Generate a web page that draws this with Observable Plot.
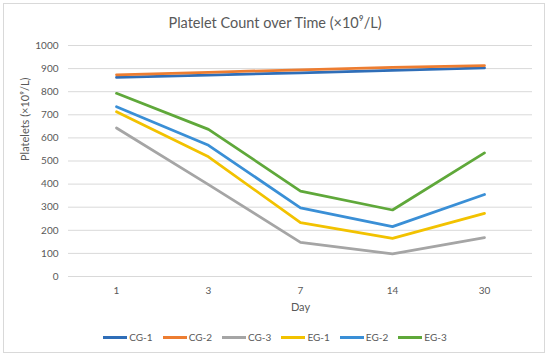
<!DOCTYPE html>
<html>
<head>
<meta charset="utf-8">
<script src="https://cdn.jsdelivr.net/npm/d3@7"></script>
<script src="https://cdn.jsdelivr.net/npm/@observablehq/plot@0.6"></script>
<style>
  html, body { margin: 0; padding: 0; background: #fff; }
  #wrap { position: relative; width: 550px; height: 360px; font-family: Lato, "Open Sans", sans-serif; color: #595959; }
  #border { position: absolute; left: 3px; top: 3px; width: 542px; height: 350px; box-sizing: border-box; border: 1px solid #d9d9d9; }
  #title { position: absolute; top: 13px; left: 0; width: 550px; text-align: center; font-size: 14.5px; line-height: 20px; }
  #chart { position: absolute; top: 36px; left: 0; }
  #legend { position: absolute; top: 330px; left: 0; width: 550px; height: 14px; display: flex; justify-content: center; align-items: center; font-size: 10px; }
  .item { display: flex; align-items: center; margin: 0 5px; }
  .sw { width: 24px; height: 3px; margin-right: 2px; }
</style>
</head>
<body>
<div id="wrap">
  <div id="border"></div>
  <div id="title">Platelet Count over Time (×10⁹/L)</div>
  <div id="chart"></div>
  <div id="legend"></div>
</div>
<script>
const days = ["1", "3", "7", "14", "30"];
const groups = ["CG-1", "CG-2", "CG-3", "EG-1", "EG-2", "EG-3"];
const colors = ["#2f6eb8", "#ed7d31", "#a5a5a5", "#f2c200", "#3a8fd6", "#5fa83a"];
const cg1 = [862, 872, 882, 892, 903];
const cg2 = [873, 884, 895, 905, 913];
const cg3 = [643, 398, 148, 98, 168];
const eg1 = [713, 518, 233, 165, 273];
const eg2 = [735, 568, 297, 216, 355];
const eg3 = [793, 637, 370, 288, 535];
const yTicks = [0, 100, 200, 300, 400, 500, 600, 700, 800, 900, 1000];
const yLabel = "Platelets (×10⁹/L)";
const xLabel = "Day";

const seriesValues = [cg1, cg2, cg3, eg1, eg2, eg3];
const rows = groups.flatMap((g, i) => days.map((d, j) => ({group: g, day: d, value: seriesValues[i][j]})));

const chart = Plot.plot({
  width: 550,
  height: 282,
  marginLeft: 68,
  marginRight: 18,
  marginTop: 9,
  marginBottom: 42,
  style: {fontFamily: "Lato, 'Open Sans', sans-serif", fontSize: "10px", color: "#595959", background: "transparent"},
  x: {type: "point", domain: days, padding: 0.5},
  y: {domain: [0, 1000]},
  color: {domain: groups, range: colors},
  marks: [
    Plot.gridY(yTicks, {stroke: "#d9d9d9", strokeOpacity: 1}),
    Plot.ruleY([0], {stroke: "#d9d9d9"}),
    Plot.axisY(yTicks, {tickSize: 0, tickPadding: 10, label: null, tickFormat: d => String(d)}),
    Plot.axisX({tickSize: 0, tickPadding: 10, label: null}),
    Plot.text([yLabel], {frameAnchor: "left", dx: -43, rotate: -90, fontSize: 11, fill: "#595959"}),
    Plot.text([xLabel], {frameAnchor: "bottom", dy: 34, fontSize: 11, fill: "#595959"}),
    Plot.lineY(rows, {x: "day", y: "value", stroke: "group", z: "group", strokeWidth: 2.75})
  ]
});
document.getElementById("chart").appendChild(chart);

const legend = document.getElementById("legend");
groups.forEach((g, i) => {
  const item = document.createElement("div");
  item.className = "item";
  const sw = document.createElement("div");
  sw.className = "sw";
  sw.style.background = colors[i];
  const lab = document.createElement("span");
  lab.textContent = g;
  item.appendChild(sw);
  item.appendChild(lab);
  legend.appendChild(item);
});
</script>
</body>
</html>
